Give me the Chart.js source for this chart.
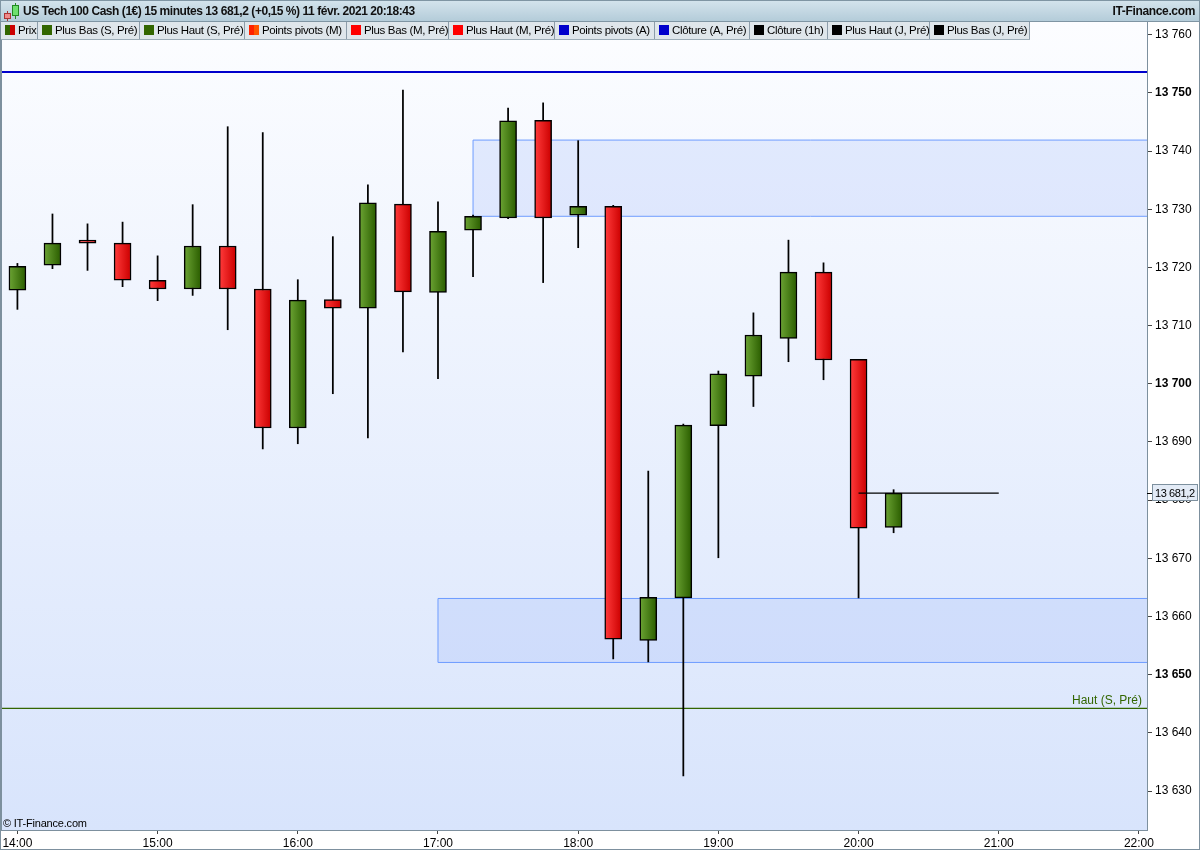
<!DOCTYPE html>
<html>
<head>
<meta charset="utf-8">
<title>US Tech 100 Cash - 15 minutes</title>
<script src="https://cdn.jsdelivr.net/npm/chart.js@4.4.1/dist/chart.umd.min.js"></script>
<style>
	html, body { margin: 0; padding: 0; background: #fff; }
	#wrap { position: relative; width: 1200px; height: 850px; overflow: hidden; font-family: "Liberation Sans", Arial, sans-serif; color: #000; }
	#chart { position: absolute; left: 0; top: 0; }
	#header { position: absolute; left: 0; top: 0; width: 1200px; height: 22px; box-sizing: border-box;
		background: linear-gradient(#d3e3ec, #b4ccd9); border: 1px solid #7f95a3; }
	#title { position: absolute; left: 22px; top: 0; line-height: 21px; font-size: 12px; font-weight: bold; color: #111; white-space: nowrap; letter-spacing: -0.45px; }
	#brand { position: absolute; right: 4px; top: 0; line-height: 21px; font-size: 12px; font-weight: bold; color: #111; letter-spacing: -0.35px; }
	.ico { position: absolute; box-sizing: border-box; }
	#legend { position: absolute; left: 1px; top: 22px; height: 17px; display: flex; border-bottom: 1px solid #9cadb8; }
	#legend div { box-sizing: border-box; height: 17px; line-height: 17px; font-size: 11.5px; padding-left: 4px; letter-spacing: -0.35px;
		background: #dfe6eb; border-right: 1px solid #8d9daa; white-space: nowrap; overflow: hidden; }
	#legend span { display: inline-block; width: 10px; height: 10px; margin-right: 3px; vertical-align: -1px; }
	#copy { position: absolute; left: 3px; top: 817px; font-size: 11px; color: #000; letter-spacing: -0.2px; }
</style>
</head>
<body>
<div id="wrap">
	<canvas id="chart" width="1200" height="850"></canvas>
	<div id="header">
		<div class="ico" style="top:10px;width:1px;height:10px;background:#a33;left:6px"></div>
		<div class="ico" style="left:3px;top:12px;width:7px;height:6px;background:#f08a8a;border:1px solid #a33"></div>
		<div class="ico" style="left:14px;top:2px;width:1px;height:16px;background:#282"></div>
		<div class="ico" style="left:11px;top:4px;width:7px;height:11px;background:#6ee06e;border:1px solid #282"></div>
		<div id="title">US Tech 100 Cash (1€) 15 minutes 13 681,2 (+0,15 %) 11 févr. 2021 20:18:43</div>
		<div id="brand">IT-Finance.com</div>
	</div>
	<div id="legend"></div>
	<div id="copy">© IT-Finance.com</div>
</div>
<script>
(function(window, document, undefined) {
	"use strict";

	// 15 minute candles
	var times = ['14:00', '14:15', '14:30', '14:45', '15:00', '15:15', '15:30', '15:45',
		'16:00', '16:15', '16:30', '16:45', '17:00', '17:15', '17:30', '17:45',
		'18:00', '18:15', '18:30', '18:45', '19:00', '19:15', '19:30', '19:45',
		'20:00', '20:15'];
	var opens = [13716.1, 13720.4, 13724.7, 13724.2, 13717.8, 13716.3, 13723.7, 13716.3,
		13692.4, 13714.5, 13713.0, 13730.9, 13715.7, 13726.4, 13728.5, 13745.3,
		13729.0, 13730.5, 13655.9, 13663.2, 13692.8, 13701.3, 13707.8, 13719.2,
		13704.2, 13675.3];
	var highs = [13720.7, 13729.2, 13727.5, 13727.8, 13722.0, 13730.8, 13744.2, 13743.2,
		13717.9, 13725.3, 13734.2, 13750.5, 13731.3, 13729.0, 13747.4, 13748.3,
		13741.8, 13730.7, 13685.0, 13693.1, 13702.2, 13712.2, 13724.7, 13720.8,
		13704.2, 13681.8];
	var lows = [13712.8, 13719.8, 13719.5, 13716.7, 13714.3, 13715.2, 13709.3, 13688.8,
		13689.7, 13698.3, 13690.7, 13705.5, 13700.9, 13718.4, 13728.4, 13717.4,
		13723.4, 13652.7, 13652.2, 13632.6, 13670.1, 13696.1, 13703.8, 13700.7,
		13663.2, 13674.4];
	var closes = [13720.2, 13724.2, 13724.2, 13717.8, 13716.3, 13723.7, 13716.3, 13692.4,
		13714.4, 13713.0, 13731.1, 13715.8, 13726.2, 13728.8, 13745.2, 13728.5,
		13730.5, 13656.1, 13663.3, 13692.9, 13701.7, 13708.4, 13719.2, 13704.1,
		13675.2, 13681.2];

	// tick labels
	var hourLabels = ['14:00', '15:00', '16:00', '17:00', '18:00', '19:00', '20:00', '21:00', '22:00'];

	// levels
	var lastPrice = 13681.2;
	var lastPriceSpan = ['20:00', '21:00'];
	var yearClose = 13753.6;
	var weekHigh = 13644.2;
	var upperZone = [13728.8, 13741.9];
	var upperZoneFrom = '17:15';
	var lowerZone = [13652.1, 13663.1];
	var lowerZoneFrom = '17:00';

	var legendItems = [
		['Prix', 'linear-gradient(90deg,#336600 50%,#cc0000 50%)', 37],
		['Plus Bas (S, Pré)', '#336600', 102],
		['Plus Haut (S, Pré)', '#336600', 105],
		['Points pivots (M)', 'linear-gradient(90deg,#ff2200 50%,#ff5500 50%)', 102],
		['Plus Bas (M, Pré)', '#ff0000', 102],
		['Plus Haut (M, Pré)', '#ff0000', 106],
		['Points pivots (A)', '#0000cc', 100],
		['Clôture (A, Pré)', '#0000cc', 95],
		['Clôture (1h)', '#000000', 78],
		['Plus Haut (J, Pré)', '#000000', 102],
		['Plus Bas (J, Pré)', '#000000', 100]
	];

	var legend = document.getElementById('legend');
	legendItems.forEach(function(it) {
		var d = document.createElement('div');
		d.style.width = it[2] + 'px';
		d.innerHTML = '<span style="background:' + it[1] + '"></span>' + it[0];
		legend.appendChild(d);
	});

	var FONT = '"Liberation Sans", Arial, sans-serif';

	function slot(t) {
		var p = t.split(':');
		return (parseInt(p[0], 10) - 14) * 4 + parseInt(p[1], 10) / 15;
	}

	function fmt(v, dec) {
		var s = v.toFixed(dec).split('.');
		s[0] = s[0].replace(/\B(?=(\d{3})+(?!\d))/g, ' ');
		return s.join(',');
	}

	var xMin = -0.44, xMax = 32.23;

	function zone(from, range) {
		var a = slot(from), b = xMax + 1;
		return [
			{x: a, y: range[1]}, {x: b, y: range[1]},
			{x: b, y: range[0]}, {x: a, y: range[0]},
			{x: a, y: range[1]}
		];
	}

	function bodyColor(c) {
		var i = c.dataIndex;
		if (i === undefined) return '#cc0000';
		var up = closes[i] >= opens[i];
		var xs = c.chart.scales.x;
		if (!xs || !c.chart.chartArea) return up ? '#4a8018' : '#ee1111';
		var px = xs.getPixelForValue(slot(times[i]));
		var g = c.chart.ctx.createLinearGradient(px - 8, 0, px + 8, 0);
		if (up) {
			g.addColorStop(0, '#6aa232');
			g.addColorStop(1, '#2b5e00');
		} else {
			g.addColorStop(0, '#ff3a3a');
			g.addColorStop(1, '#cc0000');
		}
		return g;
	}

	var decor = {
		id: 'decor',
		beforeDraw: function(chart) {
			var ctx = chart.ctx, a = chart.chartArea;
			ctx.save();
			ctx.fillStyle = '#fff';
			ctx.fillRect(0, 0, chart.width, chart.height);
			var g = ctx.createLinearGradient(0, a.top, 0, a.bottom);
			g.addColorStop(0, '#fcfdff');
			g.addColorStop(1, '#d8e4fc');
			ctx.fillStyle = g;
			ctx.fillRect(a.left, a.top, a.right - a.left, a.bottom - a.top);
			ctx.restore();
		},
		afterDatasetsDraw: function(chart) {
			var ctx = chart.ctx, a = chart.chartArea;
			var y = chart.scales.y.getPixelForValue(weekHigh);
			ctx.save();
			ctx.font = '12px ' + FONT;
			ctx.fillStyle = '#336600';
			ctx.textAlign = 'right';
			ctx.textBaseline = 'alphabetic';
			ctx.fillText('Haut (S, Pré)', a.right - 5, y - 4);
			ctx.restore();
		},
		afterDraw: function(chart) {
			var ctx = chart.ctx, a = chart.chartArea;
			ctx.save();
			ctx.strokeStyle = '#7d909e';
			ctx.lineWidth = 1;
			ctx.strokeRect(a.left - 0.5, a.top - 0.5, a.right - a.left + 1, a.bottom - a.top + 1);
			ctx.strokeRect(0.5, 0.5, chart.width - 1, chart.height - 1);
			// last price tag
			var y = Math.round(chart.scales.y.getPixelForValue(lastPrice));
			ctx.fillStyle = '#e3ebf6';
			ctx.fillRect(a.right + 5, y - 9, 46, 17);
			ctx.strokeRect(a.right + 5.5, y - 8.5, 45, 16);
			ctx.beginPath();
			ctx.moveTo(a.right, y + 0.5);
			ctx.lineTo(a.right + 5, y + 0.5);
			ctx.strokeStyle = '#000';
			ctx.stroke();
			ctx.fillStyle = '#000';
			ctx.font = '11px ' + FONT;
			if ('letterSpacing' in ctx) ctx.letterSpacing = '-0.4px';
			ctx.textBaseline = 'middle';
			ctx.fillText(fmt(lastPrice, 1), a.right + 8, y + 0.5);
			ctx.restore();
		}
	};

	var ctx = document.getElementById('chart').getContext('2d');
	var myChart = new Chart(ctx, {
		type: 'bar',
		data: {
			datasets: [{
				type: 'line',
				label: 'Zone haute',
				data: zone(upperZoneFrom, upperZone),
				borderColor: '#6e9cff',
				borderWidth: 1,
				backgroundColor: 'rgba(140, 170, 250, 0.2)',
				fill: 'shape',
				pointRadius: 0,
				tension: 0,
				order: 6
			}, {
				type: 'line',
				label: 'Zone basse',
				data: zone(lowerZoneFrom, lowerZone),
				borderColor: '#6e9cff',
				borderWidth: 1,
				backgroundColor: 'rgba(140, 170, 250, 0.2)',
				fill: 'shape',
				pointRadius: 0,
				tension: 0,
				order: 6
			}, {
				type: 'line',
				label: 'Clôture (A, Pré)',
				data: [{x: xMin - 1, y: yearClose}, {x: xMax + 1, y: yearClose}],
				borderColor: '#0000cc',
				borderWidth: 2,
				pointRadius: 0,
				order: 5
			}, {
				type: 'line',
				label: 'Plus Haut (S, Pré)',
				data: [{x: xMin - 1, y: weekHigh}, {x: xMax + 1, y: weekHigh}],
				borderColor: '#336600',
				borderWidth: 1.2,
				pointRadius: 0,
				order: 5
			}, {
				label: 'Mèches',
				data: times.map(function(t, i) { return {x: slot(t), y: [lows[i], highs[i]]}; }),
				backgroundColor: '#000',
				borderWidth: 0,
				barThickness: 1.1,
				grouped: false,
				order: 2
			}, {
				label: 'Prix',
				data: times.map(function(t, i) { return {x: slot(t), y: [opens[i], closes[i]]}; }),
				backgroundColor: bodyColor,
				borderColor: '#000',
				borderWidth: 1.5,
				borderSkipped: false,
				barThickness: 17,
				grouped: false,
				order: 1
			}, {
				type: 'line',
				label: 'Dernier',
				data: lastPriceSpan.map(function(t) { return {x: slot(t), y: lastPrice}; }),
				borderColor: '#000',
				borderWidth: 1.3,
				pointRadius: 0,
				order: 0
			}]
		},
		options: {
			responsive: false,
			devicePixelRatio: 1,
			animation: false,
			events: [],
			layout: { padding: { left: 2, top: 22, right: 0, bottom: 0 } },
			plugins: {
				legend: { display: false },
				tooltip: { enabled: false }
			},
			scales: {
				x: {
					type: 'linear',
					position: 'bottom',
					min: xMin,
					max: xMax,
					offset: false,
					afterFit: function(s) { s.height = 20; },
					afterBuildTicks: function(s) {
						s.ticks = hourLabels.map(function(h) { return {value: slot(h)}; });
					},
					ticks: {
						includeBounds: false,
						maxRotation: 0,
						autoSkip: false,
						padding: 2,
						color: '#000',
						font: { family: FONT, size: 12 },
						callback: function(v) {
							return hourLabels[Math.round(v / 4)];
						}
					},
					grid: { offset: false, drawOnChartArea: false, tickLength: 4, color: '#444' },
					border: { display: false }
				},
				y: {
					type: 'linear',
					position: 'right',
					min: 13623.3,
					max: 13762.2,
					afterFit: function(s) { s.width = 53; },
					ticks: {
						stepSize: 10,
						includeBounds: false,
						padding: 3,
						color: '#000',
						font: function(c) {
							var bold = c.tick && Math.round(c.tick.value) % 50 === 0;
							return { family: FONT, size: 12, weight: bold ? 'bold' : 'normal' };
						},
						callback: function(v) { return fmt(v, 0); }
					},
					grid: { drawOnChartArea: false, tickLength: 5, color: '#444' },
					border: { display: false }
				}
			}
		},
		plugins: [decor]
	});

})(window, document);
</script>
</body>
</html>
